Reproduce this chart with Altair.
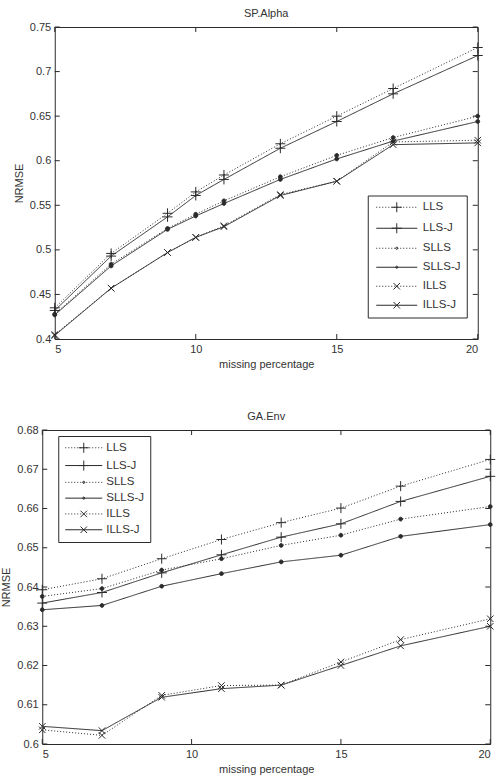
import altair as alt
import pandas as pd

series = ["LLS", "LLS-J", "SLLS", "SLLS-J", "ILLS", "ILLS-J"]
dotted_flags = [True, False, True, False, True, False]
marker_kind = ["plus", "plus", "dot", "dot", "x", "x"]

# SP.Alpha panel
sp_x = [5, 7, 9, 10, 11, 13, 15, 17, 20]
sp_lls = [0.435, 0.496, 0.541, 0.565, 0.584, 0.619, 0.650, 0.681, 0.727]
sp_lls_j = [0.432, 0.493, 0.537, 0.561, 0.579, 0.614, 0.644, 0.675, 0.718]
sp_slls = [0.428, 0.484, 0.524, 0.540, 0.555, 0.582, 0.606, 0.626, 0.650]
sp_slls_j = [0.427, 0.482, 0.523, 0.538, 0.552, 0.579, 0.602, 0.622, 0.644]
sp_ills = [0.405, 0.457, 0.497, 0.514, 0.527, 0.562, 0.577, 0.621, 0.623]
sp_ills_j = [0.404, 0.457, 0.497, 0.514, 0.526, 0.561, 0.577, 0.618, 0.620]
sp_yticks = [0.4, 0.45, 0.5, 0.55, 0.6, 0.65, 0.7, 0.75]

# GA.Env panel
ga_x = [5, 7, 9, 11, 13, 15, 17, 20]
ga_lls = [0.6393, 0.6421, 0.6472, 0.6521, 0.6564, 0.6601, 0.6657, 0.6725]
ga_lls_j = [0.6359, 0.6386, 0.6436, 0.6482, 0.6527, 0.6561, 0.6618, 0.6682]
ga_slls = [0.6376, 0.6396, 0.6443, 0.6472, 0.6506, 0.6532, 0.6573, 0.6605]
ga_slls_j = [0.6342, 0.6353, 0.6402, 0.6434, 0.6464, 0.6481, 0.6529, 0.6559]
ga_ills = [0.6036, 0.6022, 0.6124, 0.6149, 0.6150, 0.6209, 0.6266, 0.6319]
ga_ills_j = [0.6045, 0.6034, 0.6119, 0.6141, 0.6150, 0.6200, 0.6250, 0.6300]
ga_yticks = [0.6, 0.61, 0.62, 0.63, 0.64, 0.65, 0.66, 0.67, 0.68]

x_ticks = [5, 10, 15, 20]

INK = "#2b2b2b"
TXT = "#333333"
FONT = "Liberation Sans"
UNIT = 5.0        # px per path unit for symbol size 100
LEG_FONT = 11.5
ENTRY_OFF = 11.5  # Vega legend entry offset: max(ceil(sqrt(size)+sw), fontSize)


def marker_path(kind, k, dot_r=0.38):
    if kind == "plus":
        return f"M{-k:.3f},0L{k:.3f},0M0,{-k:.3f}L0,{k:.3f}"
    if kind == "x":
        a = 0.65 * k
        return f"M{-a:.3f},{-a:.3f}L{a:.3f},{a:.3f}M{-a:.3f},{a:.3f}L{a:.3f},{-a:.3f}"
    r = dot_r * k
    return f"M{-r:.3f},0A{r:.3f},{r:.3f},0,1,1,{r:.3f},0A{r:.3f},{r:.3f},0,1,1,{-r:.3f},0Z"


def line_path(dotted, half):
    if not dotted:
        return f"M{-half:.3f},0L{half:.3f},0"
    d = 1.0 / UNIT
    p = 3.0 / UNIT
    parts = []
    t = -half
    while t < half:
        parts.append(f"M{t:.3f},0L{min(t + d, half):.3f},0")
        t += p
    return "".join(parts)


def panel(title, xs, ys, ydom, yvals, W, H, leg_x, leg_y, half_len, sym_center,
          label_x, leg_pad, row_pad, label_expr):
    df = pd.DataFrame(
        [{"x": x, "y": v, "series": s} for s, vals in zip(series, ys) for x, v in zip(xs, vals)]
    )
    xsc = alt.Scale(domain=[5, 20], nice=False, zero=False)
    ysc = alt.Scale(domain=ydom, nice=False, zero=False)
    X = alt.X("x:Q", scale=xsc,
              axis=alt.Axis(values=x_ticks, format="d", title="missing percentage"))
    Y = alt.Y("y:Q", scale=ysc,
              axis=alt.Axis(values=yvals, format=".2~f", title="NRMSE"))

    base = alt.Chart(df)
    lines = base.mark_line(color=INK, strokeWidth=1).encode(
        x=X, y=Y, detail="series:N",
        strokeDash=alt.StrokeDash(
            "series:N",
            scale=alt.Scale(domain=series,
                            range=[[1, 2] if d else [1, 0] for d in dotted_flags]),
            legend=None),
    )
    pts = base.mark_point(filled=True, fill=INK, stroke=INK, strokeWidth=1,
                          opacity=1, size=100).encode(
        x=X, y=Y,
        shape=alt.Shape("series:N",
                        scale=alt.Scale(domain=series,
                                        range=[marker_path(m, 1.0) for m in marker_kind]),
                        legend=None),
    )
    half_u = half_len / UNIT
    leg_paths = [line_path(d, half_u) + marker_path(m, 1.0, 0.22)
                 for d, m in zip(dotted_flags, marker_kind)]
    sym_off = sym_center - leg_pad - ENTRY_OFF / 2
    legend_kwargs = dict(
        title=None, orient="none", legendX=leg_x, legendY=leg_y,
        symbolSize=100,
        symbolOffset=sym_off,
        symbolStrokeColor=INK, symbolFillColor=INK,
        symbolStrokeWidth=1, symbolOpacity=1,
        labelFont=FONT, labelFontSize=LEG_FONT, labelColor=TXT,
        labelOffset=label_x - leg_pad - ENTRY_OFF - sym_off,
        padding=leg_pad, rowPadding=row_pad,
        strokeColor=INK, fillColor="white",
    )
    if label_expr:
        legend_kwargs["labelExpr"] = label_expr
    leg = base.transform_filter("datum.x < 0").mark_point(
        filled=False, stroke=INK, strokeWidth=1, opacity=1).encode(
        x=X, y=Y,
        shape=alt.Shape("series:N",
                        scale=alt.Scale(domain=series, range=leg_paths),
                        legend=alt.Legend(**legend_kwargs)),
    )
    tx = pd.DataFrame({"x": x_ticks})
    ty = pd.DataFrame({"y": yvals})
    t_top = alt.Chart(tx).mark_rule(color=INK, strokeWidth=1).encode(
        x=X, y=alt.value(0), y2=alt.value(5))
    t_bot = alt.Chart(tx).mark_rule(color=INK, strokeWidth=1).encode(
        x=X, y=alt.value(H), y2=alt.value(H - 5))
    t_left = alt.Chart(ty).mark_rule(color=INK, strokeWidth=1).encode(
        y=Y, x=alt.value(0), x2=alt.value(5))
    t_right = alt.Chart(ty).mark_rule(color=INK, strokeWidth=1).encode(
        y=Y, x=alt.value(W), x2=alt.value(W - 5))

    return alt.layer(lines, pts, leg, t_top, t_bot, t_left, t_right).resolve_scale(
        shape="independent", strokeDash="independent"
    ).properties(width=W, height=H, title=title)


top = panel("SP.Alpha", sp_x,
            [sp_lls, sp_lls_j, sp_slls, sp_slls_j, sp_ills, sp_ills_j],
            [0.4, 0.75], sp_yticks, 423, 312,
            313, 168.5, 20.5, 29, 55, 6, 6, "datum.label + '  '")
bottom = panel("GA.Env", ga_x,
               [ga_lls, ga_lls_j, ga_slls, ga_slls_j, ga_ills, ga_ills_j],
               [0.6, 0.68], ga_yticks, 448, 314,
               16, 6, 18.5, 25.5, 48, 6, 2.8, None)

chart = alt.vconcat(top, bottom, center=True, spacing=40).properties(
    padding={"left": 0, "top": 7, "right": 0, "bottom": 0},
    background="white",
).configure_view(stroke=INK, strokeWidth=1).configure_axis(
    domain=False, ticks=False, grid=False,
    labelFont=FONT, labelFontSize=11, labelColor=TXT, labelPadding=4,
    titleFont=FONT, titleFontSize=11, titleFontWeight="normal", titleColor=TXT,
).configure_axisX(titlePadding=4).configure_axisY(titlePadding=5).configure_title(
    font=FONT, fontSize=11, fontWeight="normal", color=TXT, offset=2.5,
)

chart.save("out.html", embed_options={"renderer": "svg", "actions": False})
